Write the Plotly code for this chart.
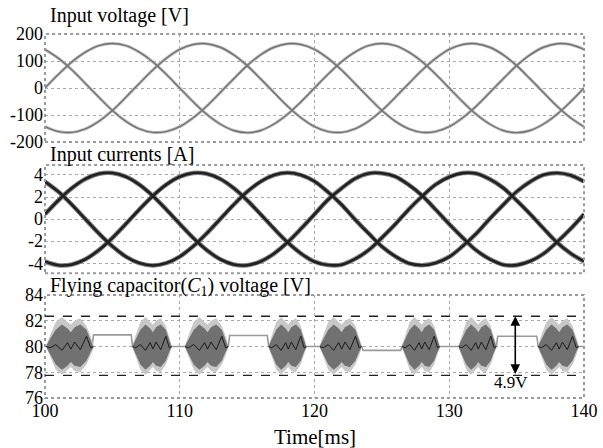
import plotly.graph_objects as go

# ---------------- data ----------------
t_ms = [100 + k for k in range(41)]

v_a = [0, 51, 97, 133, 157, 165, 157, 133, 97, 51, 0, -51, -97, -133, -157, -165, -157, -133, -97, -51,
       0, 51, 97, 133, 157, 165, 157, 133, 97, 51, 0, -51, -97, -133, -157, -165, -157, -133, -97, -51, 0]
v_b = [-143, -161, -164, -151, -123, -83, -34, 17, 67, 110, 143, 161, 164, 151, 123, 83, 34, -17, -67, -110,
       -143, -161, -164, -151, -123, -83, -34, 17, 67, 110, 143, 161, 164, 151, 123, 83, 34, -17, -67, -110, -143]
v_c = [143, 110, 67, 17, -34, -83, -123, -151, -164, -161, -143, -110, -67, -17, 34, 83, 123, 151, 164, 161,
       143, 110, 67, 17, -34, -83, -123, -151, -164, -161, -143, -110, -67, -17, 34, 83, 123, 151, 164, 161, 143]

i_a = [0.44, 1.71, 2.81, 3.64, 4.11, 4.18, 3.84, 3.12, 2.10, 0.87, -0.44, -1.71, -2.81, -3.64, -4.11, -4.18, -3.84, -3.12, -2.10, -0.87,
       0.44, 1.75, 2.78, 3.66, 4.14, 4.16, 3.86, 3.10, 2.12, 0.85, -0.46, -1.69, -2.83, -3.62, -4.13, -4.17, -3.82, -3.14, -2.08, -0.89, 0.44]
i_b = [-3.84, -4.18, -4.11, -3.64, -2.81, -1.71, -0.44, 0.87, 2.10, 3.12, 3.84, 4.18, 4.11, 3.64, 2.81, 1.71, 0.44, -0.87, -2.10, -3.12,
       -3.86, -4.16, -4.13, -3.62, -2.83, -1.69, -0.46, 0.89, 2.08, 3.14, 3.82, 4.17, 4.13, 3.62, 2.83, 1.69, 0.46, -0.85, -2.12, -3.10, -3.84]
i_c = [3.40, 2.47, 1.30, 0.00, -1.30, -2.47, -3.40, -3.99, -4.20, -3.99, -3.40, -2.47, -1.30, 0.00, 1.30, 2.47, 3.40, 3.99, 4.20, 3.99,
       3.42, 2.45, 1.32, -0.02, -1.28, -2.49, -3.38, -4.01, -4.18, -3.97, -3.42, -2.45, -1.32, 0.02, 1.28, 2.49, 3.38, 4.01, 4.18, 3.97, 3.40]

cap_t = [100, 100.2, 103.5, 103.6, 106.4, 106.5, 109.4, 110.4, 113.6, 113.7, 116.5, 116.6, 119.4,
         120.4, 123.5, 123.6, 126.4, 126.5, 129.3, 130.7, 133.5, 133.6, 136.5, 136.6, 139.6, 140]
cap_v = [80, 80, 80, 80.9, 80.9, 80, 80, 80, 80, 80.85, 80.85, 80, 80,
         80, 80, 79.7, 79.7, 80, 80, 80, 80, 80.8, 80.8, 80, 80, 80]

burst_start = [100.1, 106.5, 110.4, 116.6, 120.4, 126.5, 130.7, 136.6]
burst_end = [103.6, 109.4, 113.6, 119.4, 123.5, 129.3, 133.5, 139.6]
env_frac = [0, 0.08, 0.2, 0.33, 0.45, 0.52, 0.6, 0.72, 0.85, 0.94, 1]
outer_up = [0.1, 0.9, 1.9, 2.3, 1.9, 1.7, 2.0, 2.2, 1.6, 0.8, 0.1]
outer_dn = [0.1, 0.8, 1.8, 2.2, 1.8, 1.6, 1.9, 2.0, 1.4, 0.7, 0.1]
inner_up = [0.05, 0.6, 1.3, 1.7, 1.4, 1.1, 1.5, 1.7, 1.3, 0.5, 0.05]
inner_dn = [0.05, 0.6, 1.4, 1.8, 1.5, 1.2, 1.5, 1.6, 1.1, 0.4, 0.05]
wiggle = [0, -0.1, 0.15, -0.3, 0.3, -0.2, 0.35, -0.25, 0.8, -0.1, 0]

band_hi, band_lo = 82.35, 77.75
band_label = "4.9V"

x_ticks = [100, 110, 120, 130, 140]
y1_ticks = [-200, -100, 0, 100, 200]
y2_ticks = [-4, -2, 0, 2, 4]
y3_ticks = [76, 78, 80, 82, 84]

# ---------------- figure ----------------
FONT = "Liberation Serif, Times New Roman, Times, serif"
fig = go.Figure()

for v in (v_a, v_b, v_c):
    fig.add_trace(go.Scatter(x=t_ms, y=v, mode="lines", line=dict(color="#bdbdbd", width=3.0, shape="spline"),
                             xaxis="x", yaxis="y", hoverinfo="skip", showlegend=False))
for v in (v_a, v_b, v_c):
    fig.add_trace(go.Scatter(x=t_ms, y=v, mode="lines", line=dict(color="#747474", width=1.4, shape="spline"),
                             xaxis="x", yaxis="y", showlegend=False))

for i in (i_a, i_b, i_c):
    fig.add_trace(go.Scatter(x=t_ms, y=i, mode="lines", line=dict(color="#808080", width=4.6, shape="spline"),
                             xaxis="x2", yaxis="y2", hoverinfo="skip", showlegend=False))
for i in (i_a, i_b, i_c):
    fig.add_trace(go.Scatter(x=t_ms, y=i, mode="lines", line=dict(color="#202020", width=2.6, shape="spline"),
                             xaxis="x2", yaxis="y2", showlegend=False))

fig.add_trace(go.Scatter(x=cap_t, y=cap_v, mode="lines", line=dict(color="#9a9a9a", width=1.6),
                         xaxis="x3", yaxis="y3", showlegend=False))

for s, e in zip(burst_start, burst_end):
    xs = [s + f * (e - s) for f in env_frac]
    fig.add_trace(go.Scatter(x=xs + xs[::-1], y=[80 + u for u in outer_up] + [80 - d for d in outer_dn][::-1],
                             mode="lines", fill="toself", fillcolor="#c8c8c8", line=dict(width=0),
                             xaxis="x3", yaxis="y3", hoverinfo="skip", showlegend=False))
    fig.add_trace(go.Scatter(x=xs + xs[::-1], y=[80 + u for u in inner_up] + [80 - d for d in inner_dn][::-1],
                             mode="lines", fill="toself", fillcolor="#717171", line=dict(width=0),
                             xaxis="x3", yaxis="y3", hoverinfo="skip", showlegend=False))
    fig.add_trace(go.Scatter(x=xs, y=[80 + w for w in wiggle], mode="lines",
                             line=dict(color="#1a1a1a", width=1),
                             xaxis="x3", yaxis="y3", hoverinfo="skip", showlegend=False))

tickfont = dict(family=FONT, size=18, color="black")
xcommon = dict(range=[100, 140], tickvals=x_ticks, showgrid=True, gridcolor="#a8a8a8", griddash="dot",
               gridwidth=1, zeroline=False, showline=False, ticks="", tickfont=tickfont, automargin=False)
ycommon = dict(showgrid=True, gridcolor="#a8a8a8", griddash="dot", gridwidth=1, zeroline=False,
               showline=False, ticks="", tickfont=tickfont, ticklabelstandoff=1, automargin=False)

fig.update_layout(
    width=603, height=448,
    margin=dict(l=45, r=19, t=34, b=50),
    paper_bgcolor="white", plot_bgcolor="white",
    showlegend=False,
    font=dict(family=FONT, color="black"),
    xaxis=dict(xcommon, domain=[0, 1], anchor="y", showticklabels=False),
    xaxis2=dict(xcommon, domain=[0, 1], anchor="y2", showticklabels=False),
    xaxis3=dict(xcommon, domain=[0, 1], anchor="y3", showticklabels=True, ticktext=[str(v) for v in x_ticks]),
    yaxis=dict(ycommon, domain=[0.703, 1.0], anchor="x", range=[-200, 200], tickvals=y1_ticks,
               ticktext=[str(v) for v in y1_ticks]),
    yaxis2=dict(ycommon, domain=[0.343, 0.640], anchor="x2", range=[-4.9, 4.9], tickvals=y2_ticks,
                ticktext=[str(v) for v in y2_ticks]),
    yaxis3=dict(ycommon, domain=[0.0, 0.283], anchor="x3", range=[76, 84], tickvals=y3_ticks,
                ticktext=[str(v) for v in y3_ticks]),
)

# frames (dotted grey)
for xr, yr in (("x domain", "y domain"), ("x2 domain", "y2 domain"), ("x3 domain", "y3 domain")):
    fig.add_shape(type="rect", xref=xr, yref=yr, x0=0, x1=1, y0=0, y1=1,
                  line=dict(color="#9a9a9a", width=2, dash="dot"), layer="above")

# dashed band limits
for yv in (band_hi, band_lo):
    fig.add_shape(type="line", xref="x3 domain", yref="y3", x0=0, x1=1, y0=yv, y1=yv,
                  line=dict(color="#222222", width=1.3, dash="dash"), layer="above")

# double arrow
fig.add_annotation(x=134.9, y=band_hi, ax=134.9, ay=band_lo, xref="x3", yref="y3", axref="x3", ayref="y3",
                   text="", showarrow=True, arrowhead=2, arrowside="end+start", arrowsize=1.2,
                   arrowwidth=1.6, arrowcolor="black")
fig.add_annotation(x=134.6, y=band_lo, xref="x3", yref="y3", text=band_label, showarrow=False,
                   yanchor="top", yshift=4, font=dict(family=FONT, size=17, color="black"))

# panel titles
titles = [("Input voltage [V]", 1.052), ("Input currents [A]", 0.668),
          ("Flying capacitor(<i>C</i><sub>1</sub>) voltage [V]", 0.306)]
for txt, yp in titles:
    fig.add_annotation(x=0.006, y=yp, xref="paper", yref="paper", text=txt, showarrow=False,
                       xanchor="left", yanchor="middle", font=dict(family=FONT, size=20, color="black"))

fig.add_annotation(x=0.5, y=-0.107, xref="paper", yref="paper", text="Time[ms]", showarrow=False,
                   xanchor="center", yanchor="middle", font=dict(family=FONT, size=21, color="black"))

# remove the browser's default 8px body margin so the figure fills the 603x448 window exactly
fig.write_html("out.html", config={"displayModeBar": False},
               post_script="document.body.style.margin='0';document.body.style.overflow='hidden';")
